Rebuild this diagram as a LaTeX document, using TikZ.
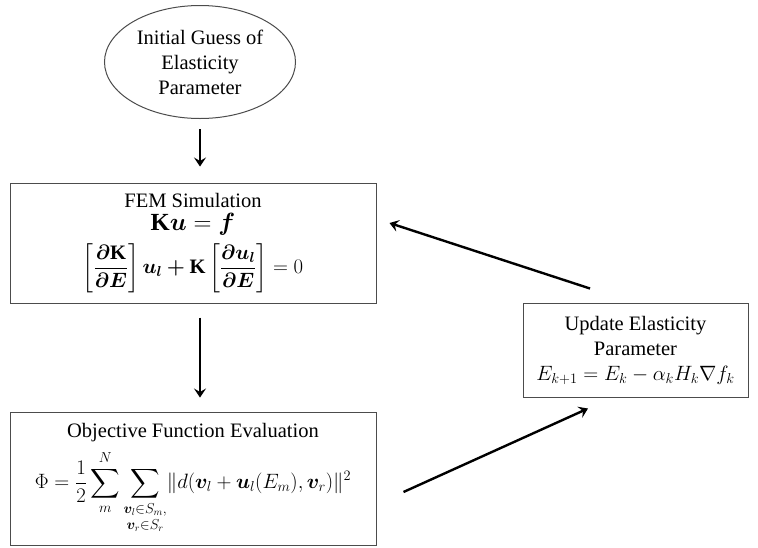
\documentclass[tikz,border=0pt]{standalone}
\usepackage{amsmath,amssymb,bm,graphicx}
\usepackage{fontspec}
\setmainfont{Liberation Serif}
\usetikzlibrary{arrows.meta,shapes.geometric}

\newcommand{\bK}{\mathbf{K}}
\newcommand{\bdE}{\bm{\partial}\bm{E}}

\tikzset{
  box/.style={draw=black!70, line width=1pt, rectangle, align=center, inner sep=0pt},
  oval/.style={draw=black!70, line width=1pt, ellipse, align=center, inner sep=0pt},
  flow/.style={line width=2.4pt, -{Stealth[length=9pt,width=12pt,inset=3.5pt]}},
  txt/.style={font=\fontsize{20.5}{25}\selectfont}
}

\begin{document}
\begin{tikzpicture}[x=1pt,y=-1pt]
  \useasboundingbox (0,0) rectangle (758,547);

  % start: initial parameter guess
  \node[oval, txt, minimum width=191pt, minimum height=113pt] (init) at (200,62)
    {Initial Guess of\\Elasticity\\Parameter};

  % forward simulation
  \node[box, txt, minimum width=366pt, minimum height=120pt] (fem) at (193,243)
    {FEM Simulation\\[-2pt]
     \scalebox{1.2}{$\bK\bm{u}=\bm{f}$}\\[7pt]
     $\left[\dfrac{\bm{\partial}\bK}{\bdE}\right]\bm{u}_{\bm{l}}\bm{+}\bK\left[\dfrac{\bm{\partial u}_{\bm{l}}}{\bdE}\right]=0$};

  % objective
  \node[box, txt, minimum width=366pt, minimum height=133pt] (obj) at (193,478.5)
    {Objective Function Evaluation\\[8pt]
     $\displaystyle\Phi=\frac{1}{2}\sum_{m}^{N}\sum_{\begin{subarray}{c}\bm{v}_l\in S_m,\\[2pt] \bm{v}_r\in S_r\end{subarray}}\lVert d(\bm{v}_l+\bm{u}_l(E_m),\bm{v}_r)\rVert^2$};

  % parameter update
  \node[box, txt, minimum width=225pt, minimum height=94pt] (upd) at (635.5,350)
    {Update Elasticity\\Parameter\\
     $E_{k+1}=E_k-\alpha_k H_k\nabla f_k$};

  % connectors
  \draw[flow, shorten <=10pt, shorten >=16pt] (init.south) -- (fem.north -| init.south);
  \draw[flow, shorten <=14pt, shorten >=14pt] (fem.south -| init.south) -- (obj.north -| init.south);
  \draw[flow] ([shift={(27,13.5)}]obj.east) -- ([shift={(-47.5,11)}]upd.south);
  \draw[flow] ([shift={(-45.5,-14)}]upd.north) -- ([shift={(13,-20)}]fem.east);
\end{tikzpicture}
\end{document}
